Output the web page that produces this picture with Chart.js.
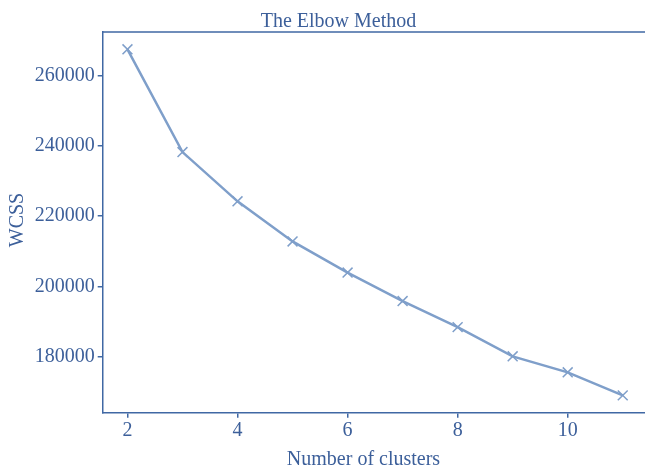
<!DOCTYPE html>
<html><head><meta charset="utf-8">
<script src="https://cdn.jsdelivr.net/npm/chart.js@4"></script>
<style>html,body{margin:0;padding:0;overflow:hidden;background:#fff}#wrap{width:660px;height:470px;position:relative}</style>
</head><body><div id="wrap"><canvas id="c" width="656" height="470"></canvas></div>
<script>
const clusters = [2, 3, 4, 5, 6, 7, 8, 9, 10, 11];
const wcss = [267400, 238200, 224200, 212800, 203950, 195850, 188450, 180150, 175600, 169050];
const xTicks = [2, 4, 6, 8, 10];
const yTicks = [180000, 200000, 220000, 240000, 260000];
const titleText = 'The Elbow Method';
const xTitle = 'Number of clusters';
const yTitle = 'WCSS';

const AXIS = '#4068a4';
const TEXT = '#3c5f9a';
const LINE = '#7f9fca';
const FONT = "'Liberation Serif', 'Times New Roman', serif";

const labelsPlugin = {
  id: 'labels',
  afterDraw(chart) {
    const ctx = chart.ctx, a = chart.chartArea;
    ctx.save();
    ctx.strokeStyle = AXIS; ctx.lineWidth = 1.5;
    ctx.beginPath(); ctx.moveTo(a.left, a.top); ctx.lineTo(a.right, a.top); ctx.lineTo(a.right, a.bottom); ctx.stroke();
    ctx.fillStyle = TEXT;
    ctx.font = '20px ' + FONT;
    ctx.textAlign = 'center'; ctx.textBaseline = 'alphabetic';
    ctx.fillText(titleText, 338.5, 27);
    ctx.fillText(xTitle, 363.5, 465);
    ctx.translate(23, 220); ctx.rotate(-Math.PI / 2);
    ctx.fillText(yTitle, 0, 0);
    ctx.restore();
  }
};

new Chart(document.getElementById('c'), {
  type: 'line',
  data: {
    datasets: [{
      data: clusters.map((x, i) => ({ x: x, y: wcss[i] })),
      borderColor: LINE, backgroundColor: LINE, borderWidth: 2.5,
      pointStyle: 'crossRot', pointRadius: 7, pointBorderWidth: 1.5,
      pointBorderColor: LINE, tension: 0
    }]
  },
  options: {
    responsive: false, animation: false, devicePixelRatio: 1,
    layout: { padding: { top: 32, right: 3, left: 0, bottom: 0 } },
    plugins: { legend: { display: false }, tooltip: { enabled: false }, title: { display: false } },
    scales: {
      x: {
        type: 'linear', min: 1.55, max: 11.45,
        afterBuildTicks: s => { s.ticks = xTicks.map(v => ({ value: v })); },
        afterFit: s => { s.height = 57.3; },
        grid: { display: true, drawOnChartArea: false, drawTicks: true, tickLength: 5, color: AXIS, lineWidth: 1.5 },
        border: { display: true, color: AXIS, width: 1.5 },
        ticks: { color: TEXT, font: { family: FONT, size: 20 }, padding: 1, maxRotation: 0, autoSkip: false }
      },
      y: {
        type: 'linear', min: 164130, max: 272320,
        afterBuildTicks: s => { s.ticks = yTicks.map(v => ({ value: v })); },
        afterFit: s => { s.width = 102.7; },
        grid: { display: true, drawOnChartArea: false, drawTicks: true, tickLength: 5, color: AXIS, lineWidth: 1.5 },
        border: { display: true, color: AXIS, width: 1.5 },
        ticks: { color: TEXT, font: { family: FONT, size: 20 }, padding: 3, callback: v => String(v), autoSkip: false }
      }
    }
  },
  plugins: [labelsPlugin]
});
</script></body></html>
